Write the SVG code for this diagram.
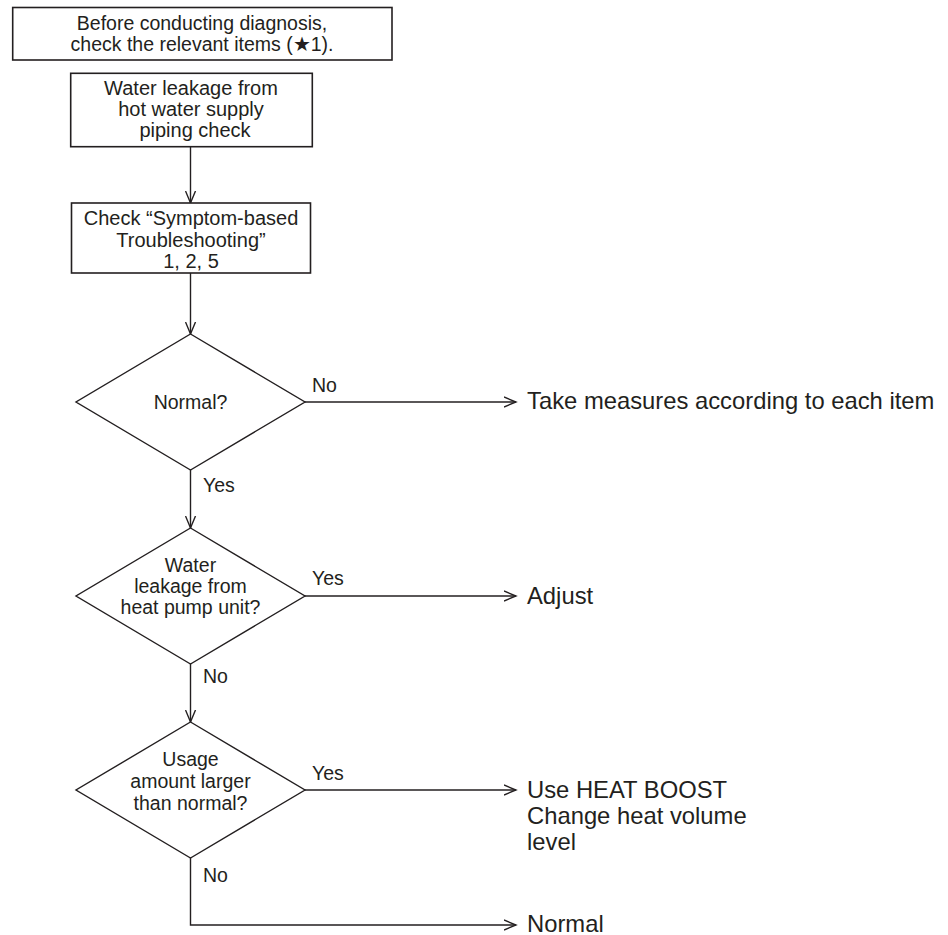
<svg xmlns="http://www.w3.org/2000/svg" width="948" height="935" viewBox="0 0 948 935">
  <style>
    .box { fill: #ffffff; stroke: #231f20; stroke-width: 1.6; }
    .dia { fill: #ffffff; stroke: #231f20; stroke-width: 1.4; }
    .lbl { font-family: "Liberation Sans", Arial, sans-serif; font-size: 19.5px; fill: #231f20; text-anchor: middle; }
    .bx { font-size: 20px; }
    .tag { font-family: "Liberation Sans", Arial, sans-serif; font-size: 19.5px; fill: #231f20; }
    .out { font-family: "Liberation Sans", Arial, sans-serif; font-size: 23.8px; fill: #231f20; }
    .wire { fill: none; stroke: #231f20; stroke-width: 1.4; }
  </style>
  <defs>
    <marker id="arrow" markerUnits="userSpaceOnUse" markerWidth="14" markerHeight="12" refX="12" refY="6" orient="auto" viewBox="0 0 14 12">
      <path d="M0,1 L12,6 L0,11" fill="none" stroke="#231f20" stroke-width="1.4"/>
    </marker>
  </defs>

  <rect width="948" height="935" fill="#ffffff"/>

  <!-- connectors -->
  <g id="connectors">
    <line class="wire" x1="190.5" y1="147" x2="190.5" y2="203" marker-end="url(#arrow)"/>
    <line class="wire" x1="190.5" y1="273" x2="190.5" y2="334" marker-end="url(#arrow)"/>
    <line class="wire" x1="305" y1="402" x2="516" y2="402" marker-end="url(#arrow)"/>
    <line class="wire" x1="190.5" y1="470" x2="190.5" y2="528" marker-end="url(#arrow)"/>
    <line class="wire" x1="305" y1="596" x2="516" y2="596" marker-end="url(#arrow)"/>
    <line class="wire" x1="190.5" y1="664" x2="190.5" y2="722" marker-end="url(#arrow)"/>
    <line class="wire" x1="305" y1="790" x2="516" y2="790" marker-end="url(#arrow)"/>
    <polyline class="wire" points="190.5,858 190.5,925 516,925" marker-end="url(#arrow)"/>
    <!-- branch labels -->
    <text class="tag" x="312" y="392">No</text>
    <text class="tag" x="203" y="492">Yes</text>
    <text class="tag" x="312" y="585">Yes</text>
    <text class="tag" x="203" y="683">No</text>
    <text class="tag" x="312" y="780">Yes</text>
    <text class="tag" x="203" y="882">No</text>
  </g>

  <!-- process boxes -->
  <g id="precheck">
    <rect class="box" x="12.7" y="7.5" width="379.3" height="52.5"/>
    <text class="lbl" x="202" y="30">Before conducting diagnosis,</text>
    <text class="lbl" x="202" y="51">check the relevant items (★1).</text>
  </g>

  <g id="piping-check">
    <rect class="box" x="70.7" y="73.3" width="241.6" height="73.4"/>
    <text class="lbl bx" x="191" y="95">Water leakage from</text>
    <text class="lbl bx" x="191" y="116">hot water supply</text>
    <text class="lbl bx" x="195" y="137">piping check</text>
  </g>

  <g id="symptom-check">
    <rect class="box" x="71.5" y="203" width="239" height="70"/>
    <text class="lbl bx" x="191" y="225">Check “Symptom-based</text>
    <text class="lbl bx" x="191" y="247">Troubleshooting”</text>
    <text class="lbl bx" x="191" y="268">1, 2, 5</text>
  </g>

  <!-- decisions -->
  <g id="normal-decision">
    <polygon class="dia" points="190.5,334 305,402 190.5,470 76,402"/>
    <text class="lbl" x="190.5" y="409">Normal?</text>
  </g>

  <g id="leak-decision">
    <polygon class="dia" points="190.5,528 305,596 190.5,664 76,596"/>
    <text class="lbl" x="190.5" y="572">Water</text>
    <text class="lbl" x="190.5" y="593">leakage from</text>
    <text class="lbl" x="190.5" y="614">heat pump unit?</text>
  </g>

  <g id="usage-decision">
    <polygon class="dia" points="190.5,722 305,790 190.5,858 76,790"/>
    <text class="lbl" x="190.5" y="766">Usage</text>
    <text class="lbl" x="190.5" y="788">amount larger</text>
    <text class="lbl" x="190.5" y="810">than normal?</text>
  </g>

  <!-- outcomes -->
  <g id="take-measures">
    <text class="out" x="527" y="409">Take measures according to each item</text>
  </g>
  <g id="adjust">
    <text class="out" x="527" y="604">Adjust</text>
  </g>
  <g id="heat-boost">
    <text class="out" x="527" y="798">Use HEAT BOOST</text>
    <text class="out" x="527" y="824">Change heat volume</text>
    <text class="out" x="527" y="850">level</text>
  </g>
  <g id="normal-end">
    <text class="out" x="527" y="932">Normal</text>
  </g>
</svg>
